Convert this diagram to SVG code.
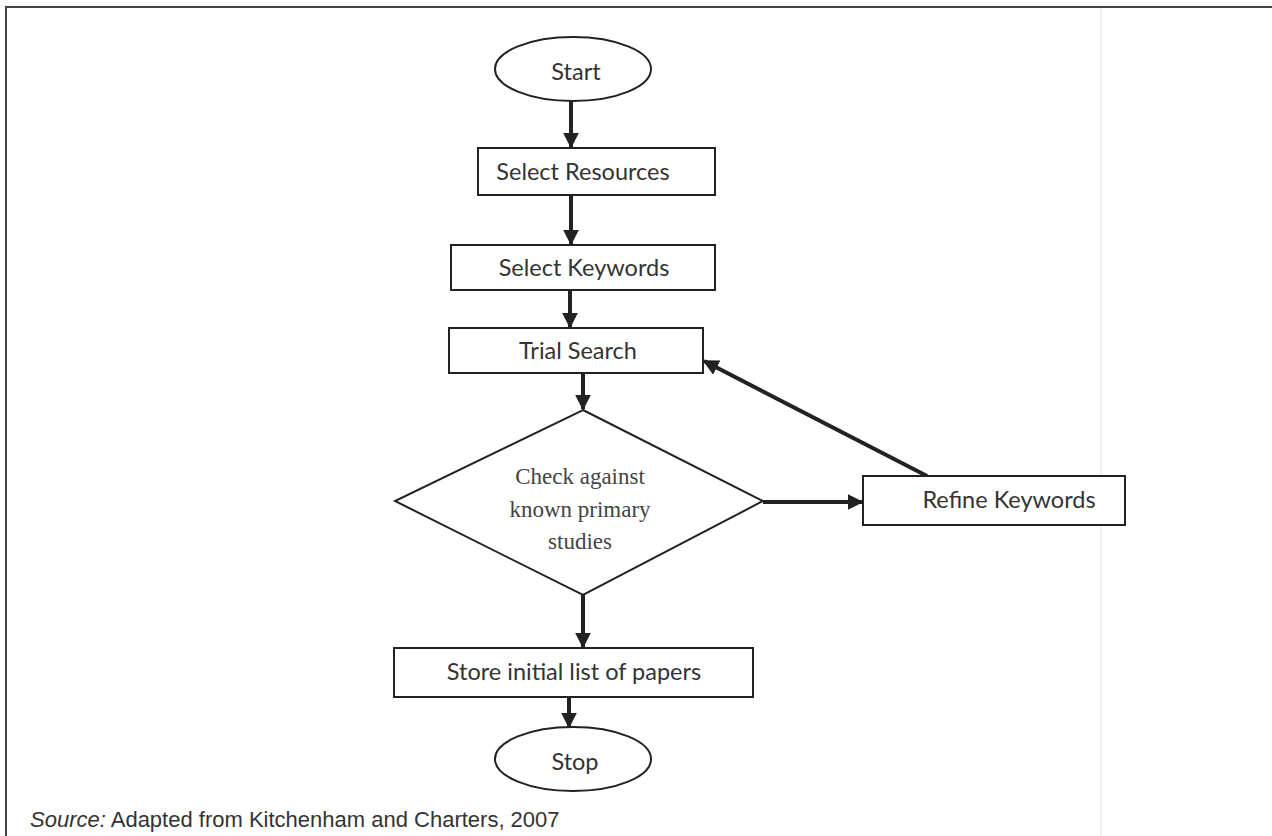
<svg xmlns="http://www.w3.org/2000/svg" width="1272" height="836" viewBox="0 0 1272 836">
<style>
.box{fill:#fff;stroke:#222;stroke-width:2}
.lbl{font-family:Lato,"Open Sans","Liberation Sans",sans-serif;font-size:23.5px;fill:#333;text-anchor:middle}
.dtx{font-family:"Liberation Serif",serif;font-size:23px;fill:#444;text-anchor:middle}
.con{stroke:#222;stroke-width:4;fill:none}
</style>
<defs>
<marker id="ah" viewBox="0 0 10 10" refX="9" refY="5" markerWidth="4" markerHeight="4" markerUnits="strokeWidth" orient="auto">
<path d="M0,0 L10,5 L0,10 z" fill="#222"/>
</marker>
</defs>
<rect width="1272" height="836" fill="#fff"/>
<path d="M6,836 V7 H1272" fill="none" stroke="#444" stroke-width="2"/>
<line x1="1101" y1="8" x2="1101" y2="836" stroke="#e2e2e2" stroke-width="1"/>
<g id="connectors">
<line class="con" x1="571" y1="101" x2="571" y2="147" marker-end="url(#ah)"/>
<line class="con" x1="571" y1="195" x2="571" y2="244" marker-end="url(#ah)"/>
<line class="con" x1="570" y1="290" x2="570" y2="327" marker-end="url(#ah)"/>
<line class="con" x1="583" y1="373" x2="583" y2="409" marker-end="url(#ah)"/>
<line class="con" x1="763" y1="502" x2="862" y2="502" marker-end="url(#ah)"/>
<line class="con" x1="927" y1="476" x2="704" y2="361" marker-end="url(#ah)"/>
<line class="con" x1="583" y1="595" x2="583" y2="647" marker-end="url(#ah)"/>
<line class="con" x1="569" y1="697" x2="569" y2="727" marker-end="url(#ah)"/>
</g>
<g id="start">
<ellipse class="box" cx="573" cy="69" rx="78" ry="32"/>
<text class="lbl" x="576" y="80">Start</text>
</g>
<g id="select-resources">
<rect class="box" x="478" y="148" width="237" height="47"/>
<text class="lbl" x="583" y="180">Select Resources</text>
</g>
<g id="select-keywords">
<rect class="box" x="451" y="245" width="264" height="45"/>
<text class="lbl" x="584" y="276">Select Keywords</text>
</g>
<g id="trial-search">
<rect class="box" x="449" y="328" width="254" height="45"/>
<text class="lbl" x="578" y="359">Trial Search</text>
</g>
<g id="check">
<polygon class="box" points="583,410 763,501 583,595 395,501"/>
<text class="dtx" x="580" y="484">Check against</text>
<text class="dtx" x="580" y="517">known primary</text>
<text class="dtx" x="580" y="549">studies</text>
</g>
<g id="refine-keywords">
<rect class="box" x="863" y="476" width="262" height="49"/>
<text class="lbl" x="1009" y="508">Refine Keywords</text>
</g>
<g id="store">
<rect class="box" x="394" y="648" width="359" height="49"/>
<text class="lbl" x="574" y="680">Store initial list of papers</text>
</g>
<g id="stop">
<ellipse class="box" cx="573" cy="759" rx="78" ry="32"/>
<text class="lbl" x="575" y="770">Stop</text>
</g>
<text x="30" y="827" font-family="'Liberation Sans',Arial,sans-serif" font-size="22" fill="#333"><tspan font-style="italic">Source:</tspan> Adapted from Kitchenham and Charters, 2007</text>
</svg>
